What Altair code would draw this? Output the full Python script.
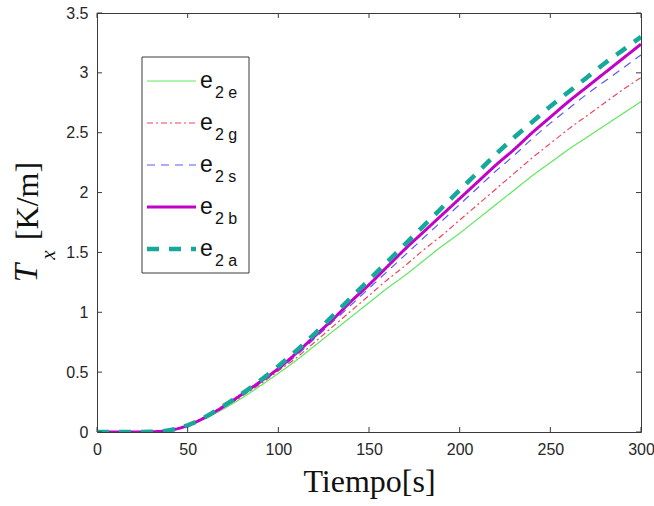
import altair as alt
import pandas as pd

# ---- data ----
tiempo = [0, 10, 20, 30, 40, 45, 50, 60, 70, 80, 90, 100, 110, 120, 130, 140, 150,
          160, 170, 180, 190, 200, 210, 220, 230, 240, 250, 260, 270, 280, 290, 300]
e2_e = [0, 0, 0, 0.002, 0.012, 0.026, 0.05, 0.115, 0.195, 0.285, 0.385, 0.49, 0.60, 0.72, 0.84, 0.96, 1.08,
        1.20, 1.31, 1.43, 1.55, 1.66, 1.78, 1.90, 2.02, 2.14, 2.25, 2.36, 2.46, 2.56, 2.66, 2.76]
e2_g = [0, 0, 0, 0.002, 0.013, 0.028, 0.052, 0.12, 0.205, 0.30, 0.40, 0.51, 0.62, 0.75, 0.88, 1.01, 1.14,
        1.27, 1.39, 1.52, 1.64, 1.77, 1.90, 2.03, 2.16, 2.29, 2.41, 2.53, 2.64, 2.75, 2.86, 2.96]
e2_s = [0, 0, 0, 0.002, 0.013, 0.029, 0.053, 0.122, 0.21, 0.31, 0.41, 0.52, 0.64, 0.78, 0.92, 1.06, 1.20,
        1.34, 1.48, 1.62, 1.76, 1.90, 2.04, 2.18, 2.31, 2.45, 2.58, 2.70, 2.82, 2.93, 3.04, 3.15]
e2_b = [0, 0, 0, 0.002, 0.014, 0.03, 0.055, 0.125, 0.215, 0.315, 0.42, 0.53, 0.66, 0.80, 0.94, 1.09, 1.23,
        1.38, 1.53, 1.67, 1.81, 1.95, 2.09, 2.23, 2.36, 2.50, 2.63, 2.76, 2.88, 3.00, 3.12, 3.24]
e2_a = [0, 0, 0, 0.002, 0.014, 0.031, 0.056, 0.128, 0.22, 0.32, 0.43, 0.55, 0.68, 0.82, 0.97, 1.12, 1.27,
        1.42, 1.57, 1.72, 1.87, 2.02, 2.17, 2.32, 2.46, 2.59, 2.72, 2.84, 2.96, 3.08, 3.19, 3.30]

series_names = ["e2e", "e2g", "e2s", "e2b", "e2a"]
series_values = [e2_e, e2_g, e2_s, e2_b, e2_a]
legend_subs = ["2 e", "2 g", "2 s", "2 b", "2 a"]

x_ticks = [0, 50, 100, 150, 200, 250, 300]
y_ticks = [0, 0.5, 1, 1.5, 2, 2.5, 3, 3.5]

# ---- styles ----
colors = ["#5ee85e", "#f2455a", "#5a5cf5", "#c200c8", "#17a89c"]
widths = [1.2, 1.2, 1.2, 3, 4.5]
dashes = [[1, 0], [6, 3, 2, 3], [8, 6], [1, 0], [12, 10]]

W, H = 544, 419
axis_color = "#3a3a3a"
label_font = "Liberation Sans"
serif = "Liberation Serif"

xs = alt.Scale(domain=[0, 300], nice=False)
ys = alt.Scale(domain=[0, 3.5], nice=False)

layers = []
for name, vals, col, w, d in zip(series_names, series_values, colors, widths, dashes):
    df = pd.DataFrame({"t": tiempo, "v": vals})
    mk = alt.Chart(df).mark_line(color=col, strokeWidth=w, strokeDash=d,
                                 interpolate="monotone", clip=True)
    layers.append(mk.encode(
        x=alt.X("t:Q", scale=xs,
                axis=alt.Axis(values=x_ticks, title="Tiempo[s]", ticks=False, grid=False,
                              domain=False, labelFont=label_font, labelFontSize=16,
                              labelColor="#262626", labelPadding=9, labelFlush=False,
                              labelOverlap=False,
                              titleFont=serif, titleFontSize=32, titleFontWeight="normal",
                              titleColor="#111111", titleBaseline="alphabetic", titleY=59)),
        y=alt.Y("v:Q", scale=ys,
                axis=alt.Axis(values=y_ticks, title=None, ticks=False, grid=False,
                              domain=False, format="~g", labelFont=label_font,
                              labelFontSize=16, labelColor="#262626", labelPadding=9,
                              labelFlush=False, labelOverlap=False)),
    ))

# inward ticks on all four sides, at tick values via the scales
dfx = pd.DataFrame({"t": x_ticks})
dfy = pd.DataFrame({"v": y_ticks})
tk = 5
layers.append(alt.Chart(dfx).mark_rule(color=axis_color, strokeWidth=1).encode(
    x=alt.X("t:Q", scale=xs), y=alt.value(H), y2=alt.value(H - tk)))
layers.append(alt.Chart(dfx).mark_rule(color=axis_color, strokeWidth=1).encode(
    x=alt.X("t:Q", scale=xs), y=alt.value(0), y2=alt.value(tk)))
layers.append(alt.Chart(dfy).mark_rule(color=axis_color, strokeWidth=1).encode(
    y=alt.Y("v:Q", scale=ys), x=alt.value(0), x2=alt.value(tk)))
layers.append(alt.Chart(dfy).mark_rule(color=axis_color, strokeWidth=1).encode(
    y=alt.Y("v:Q", scale=ys), x=alt.value(W), x2=alt.value(W - tk)))

# ---- manual legend (box + samples + subscripted labels) ----
one = pd.DataFrame({"k": [0]})
lx0, lx1, ly0, ly1 = 142 - 97, 249 - 97, 57 - 13, 273 - 13
layers.append(alt.Chart(one).mark_rect(fill="white", stroke=axis_color, strokeWidth=1).encode(
    x=alt.value(lx0), x2=alt.value(lx1), y=alt.value(ly0), y2=alt.value(ly1)))
row0, step = 81 - 13, 42
for i, (sub, col, w, d) in enumerate(zip(legend_subs, colors, widths, dashes)):
    yy = row0 + i * step
    layers.append(alt.Chart(one).mark_rule(color=col, strokeWidth=w, strokeDash=d).encode(
        x=alt.value(147 - 97), x2=alt.value(196 - 97), y=alt.value(yy)))
    layers.append(alt.Chart(one).mark_text(text="e", font=label_font, fontSize=23,
                                           align="left", baseline="alphabetic",
                                           color="#111111").encode(
        x=alt.value(200 - 97), y=alt.value(yy + 7)))
    layers.append(alt.Chart(one).mark_text(text=sub, font=label_font, fontSize=16,
                                           align="left", baseline="alphabetic",
                                           color="#111111").encode(
        x=alt.value(215 - 97), y=alt.value(yy + 17)))

# ---- y title: T_x [K/m], rotated ----
layers.append(alt.Chart(one).mark_text(text="T", font=serif, fontSize=33, fontStyle="italic",
                                       angle=270, align="center", baseline="middle",
                                       color="#111111").encode(
    x=alt.value(27 - 97), y=alt.value(273 - 13)))
layers.append(alt.Chart(one).mark_text(text="x", font=serif, fontSize=21, fontStyle="italic",
                                       angle=270, align="center", baseline="middle",
                                       color="#111111").encode(
    x=alt.value(49 - 97), y=alt.value(255 - 13)))
layers.append(alt.Chart(one).mark_text(text="[K/m]", font=serif, fontSize=32,
                                       angle=270, align="center", baseline="middle",
                                       color="#111111").encode(
    x=alt.value(28 - 97), y=alt.value(201 - 13)))

chart = alt.layer(*layers).properties(
    width=W, height=H,
    autosize=alt.AutoSizeParams(type="none"),
    padding={"left": 97, "top": 13, "right": 13, "bottom": 74},
    background="white",
).configure_view(stroke=axis_color, strokeWidth=1)

chart.save("out.html", embed_options={"renderer": "svg", "actions": False})
